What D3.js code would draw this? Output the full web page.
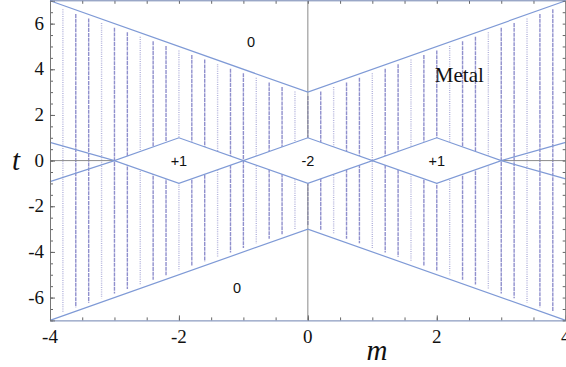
<!DOCTYPE html>
<html>
<head>
<meta charset="utf-8">
<script src="https://cdn.jsdelivr.net/npm/d3@7"></script>
<style>
  body { margin: 0; background: #fff; }
  svg { display: block; }
</style>
</head>
<body>
<div id="chart_box"></div>
<script>
// phase diagram in the (m, t) plane

let m_domain = [-4, 4];
let t_domain = [-7, 7];

let m_ticks = [-4, -2, 0, 2, 4];
let t_ticks = [-6, -4, -2, 0, 2, 4, 6];

// outer boundary of the metal, upper and lower
let outer_upper = [[-4, 7], [0, 3], [4, 7]];
let outer_lower = [[-4, -7], [0, -3], [4, -7]];

// zigzag lines that cross at odd m
let zig_upper = [[-4, 0.8], [-3, 0], [-2, 1], [-1, 0], [0, 1], [1, 0], [2, 1], [3, 0], [4, 0.8]];
let zig_lower = [[-4, -0.92], [-3, 0], [-2, -1], [-1, 0], [0, -1], [1, 0], [2, -1], [3, 0], [4, -0.8]];

// insulating diamonds and their Chern numbers
let diamond_m = [-2, 0, 2];
let diamond_labels = ["+1", "-2", "+1"];

// trivial regions
let trivial_labels = ["0", "0"];
let trivial_pos = [[-0.88, 5.2], [-1.1, -5.6]];

let margin = { "top": 1, "right": 0, "bottom": 47, "left": 50 };
let svg_width = 566;
let svg_height = 367;

let serif = "'Liberation Serif', 'Times New Roman', serif";
let sans = "'Liberation Sans', Arial, sans-serif";

let x = d3.scaleLinear().domain(m_domain).range([margin.left, 565.7]);
let y = d3.scaleLinear().domain(t_domain).range([320.4, 0.8]);

let svg = d3.select("#chart_box")
  .append("svg")
    .attr("width", svg_width)
    .attr("height", svg_height);

let line_gen = d3.line().x(d => x(d[0])).y(d => y(d[1]));

let interp = function hst_interp(pts, m)
{
  for (let i = 0; i < pts.length - 1; i++) {
    let a = pts[i], b = pts[i + 1];
    if (m >= a[0] && m <= b[0]) {
      return a[1] + (b[1] - a[1]) * (m - a[0]) / (b[0] - a[0]);
    }
  }
  return pts[pts.length - 1][1];
}

// vertical hatching of the metallic region
let hatch_m = d3.range(-3.8, 3.81, 0.2).map(v => Math.round(v * 10) / 10);
let hatch = svg.append("g").attr("id", "hatch");
hatch.selectAll("line")
  .data(hatch_m)
  .enter()
  .append("line")
    .attr("x1", d => x(d))
    .attr("x2", d => x(d))
    .attr("y1", d => y(interp(outer_upper, d)) + 4)
    .attr("y2", d => y(interp(outer_lower, d)) - 4)
    .attr("stroke", "#7474c0")
    .attr("stroke-width", 1.4)
    .attr("stroke-opacity", (d, i) => (i % 3 === 0 ? 0.55 : 0.8))
    .attr("stroke-dasharray", (d, i) => (i % 3 === 0 ? "1,1.2" : "4,0.8"));

// zero lines
svg.append("line")
  .attr("x1", x(0)).attr("x2", x(0))
  .attr("y1", y(7)).attr("y2", y(-7))
  .attr("stroke", "#8a8a8a").attr("stroke-width", 1);
svg.append("line")
  .attr("x1", x(-4)).attr("x2", x(4))
  .attr("y1", y(0)).attr("y2", y(0))
  .attr("stroke", "#8a8a8a").attr("stroke-width", 1);

// white diamonds
svg.append("g").selectAll("path")
  .data(diamond_m)
  .enter()
  .append("path")
    .attr("d", d => line_gen([[d - 1, 0], [d, 1], [d + 1, 0], [d, -1], [d - 1, 0]]))
    .attr("fill", "#fff")
    .attr("stroke", "none");

// boundary lines
[outer_upper, outer_lower, zig_upper, zig_lower].forEach(function(pts) {
  svg.append("path")
    .attr("d", line_gen(pts))
    .attr("fill", "none")
    .attr("stroke", "#7f9ad6")
    .attr("stroke-width", 1.2);
});

// region labels
svg.append("g").selectAll("text")
  .data(diamond_m)
  .enter()
  .append("text")
    .attr("x", d => x(d))
    .attr("y", y(0) + 5)
    .attr("text-anchor", "middle")
    .style("font-family", sans)
    .style("font-size", "14.5px")
    .attr("fill", "#111")
    .text((d, i) => diamond_labels[i]);

svg.append("g").selectAll("text")
  .data(trivial_pos)
  .enter()
  .append("text")
    .attr("x", d => x(d[0]))
    .attr("y", d => y(d[1]) + 5)
    .attr("text-anchor", "middle")
    .style("font-family", sans)
    .style("font-size", "14.5px")
    .attr("fill", "#111")
    .text((d, i) => trivial_labels[i]);

svg.append("text")
  .attr("x", x(2.35))
  .attr("y", y(3.75) + 7)
  .attr("text-anchor", "middle")
  .style("font-family", serif)
  .style("font-size", "21px")
  .attr("fill", "#111")
  .text("Metal");

// frame axes, ticks pointing inward
let minor_m = d3.range(-4, 4.01, 0.5);
let minor_t = d3.range(-7, 7.01, 0.5);

let g_minor_b = svg.append("g").attr("transform", "translate(0," + y(-7) + ")")
  .call(d3.axisBottom(x).tickValues(minor_m).tickSize(-3).tickFormat(""));
let g_minor_l = svg.append("g").attr("transform", "translate(" + x(-4) + ",0)")
  .call(d3.axisLeft(y).tickValues(minor_t).tickSize(-3).tickFormat(""));
let g_bot = svg.append("g").attr("transform", "translate(0," + y(-7) + ")")
  .call(d3.axisBottom(x).tickValues(m_ticks).tickSize(-5).tickFormat(""));
let g_top = svg.append("g").attr("transform", "translate(0," + y(7) + ")")
  .call(d3.axisTop(x).tickValues(minor_m).tickSize(-3).tickFormat(""));
let g_left = svg.append("g").attr("transform", "translate(" + x(-4) + ",0)")
  .call(d3.axisLeft(y).tickValues(t_ticks).tickSize(-5).tickFormat(""));
let g_right = svg.append("g").attr("transform", "translate(" + x(4) + ",0)")
  .call(d3.axisRight(y).tickValues(minor_t).tickSize(-3).tickFormat(""));

[g_minor_b, g_minor_l, g_top, g_right].forEach(g => g.select(".domain").remove());

[g_minor_b, g_minor_l, g_bot, g_top, g_left, g_right].forEach(function(g) {
  g.selectAll("line").attr("stroke", "#666");
});
g_bot.select(".domain").attr("stroke", "#6f82b0");
g_left.select(".domain").attr("stroke", "#777");

// tick labels in serif
svg.append("g").selectAll("text")
  .data(m_ticks)
  .enter()
  .append("text")
    .attr("x", d => x(d))
    .attr("y", y(-7) + 23)
    .attr("text-anchor", "middle")
    .style("font-family", serif)
    .style("font-size", "19px")
    .attr("fill", "#111")
    .text(d => String(d));

svg.append("g").selectAll("text")
  .data(t_ticks)
  .enter()
  .append("text")
    .attr("x", x(-4) - 6)
    .attr("y", d => y(d) + 6)
    .attr("text-anchor", "end")
    .style("font-family", serif)
    .style("font-size", "19px")
    .attr("fill", "#111")
    .text(d => String(d));

svg.append("line")
  .attr("x1", x(-4)).attr("x2", x(4))
  .attr("y1", y(7)).attr("y2", y(7))
  .attr("stroke", "#6f82b0").attr("stroke-width", 1);
svg.append("line")
  .attr("x1", x(4)).attr("x2", x(4))
  .attr("y1", y(7)).attr("y2", y(-7))
  .attr("stroke", "#777").attr("stroke-width", 1);

// axis titles
svg.append("text")
  .attr("x", 377)
  .attr("y", 360)
  .attr("text-anchor", "middle")
  .style("font-family", serif)
  .style("font-style", "italic")
  .style("font-size", "29px")
  .attr("fill", "#111")
  .text("m");

svg.append("text")
  .attr("x", 16)
  .attr("y", y(0) + 9)
  .attr("text-anchor", "middle")
  .style("font-family", serif)
  .style("font-style", "italic")
  .style("font-size", "29px")
  .attr("fill", "#111")
  .text("t");
</script>
</body>
</html>
